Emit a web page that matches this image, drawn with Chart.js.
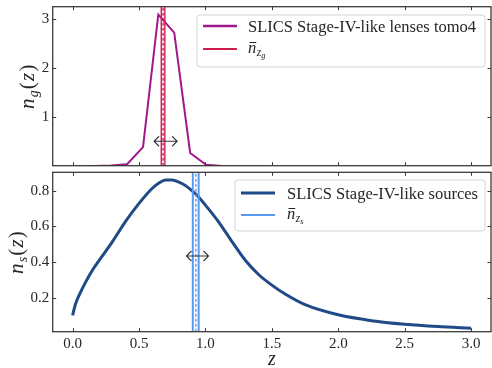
<!DOCTYPE html>
<html>
<head>
<meta charset="utf-8">
<script src="https://cdn.jsdelivr.net/npm/chart.js@4.4.1/dist/chart.umd.min.js"></script>
<style>
  html, body { margin: 0; padding: 0; background: #fff; }
  #wrap { position: relative; width: 492px; height: 368px; }
  #lensChart { position: absolute; left: 0; top: 0; }
  #srcChart { position: absolute; left: 0; top: 170px; }
</style>
</head>
<body>
<div id="wrap">
  <canvas id="lensChart" width="492" height="170"></canvas>
  <canvas id="srcChart" width="492" height="198"></canvas>
</div>
<script>
// lenses (tomo4) n(z), histogram-like points
var lensZ  = [0.05, 0.17, 0.29, 0.41, 0.53, 0.645, 0.765, 0.885, 1.005, 1.125, 1.245, 1.4];
var lensNz = [0.0, 0.005, 0.015, 0.04, 0.39, 3.1, 2.73, 0.27, 0.03, 0.005, 0.0, 0.0];

// sources n(z)
var srcZ  = [0, 0.02, 0.05, 0.1, 0.15, 0.2, 0.3, 0.4, 0.5, 0.6, 0.65, 0.7, 0.75, 0.8, 0.85, 0.9, 0.95, 1.0, 1.1, 1.2, 1.3, 1.4, 1.5, 1.6, 1.75, 2.0, 2.25, 2.5, 2.75, 3.0];
var srcNz = [0.10, 0.16, 0.215, 0.29, 0.355, 0.41, 0.515, 0.63, 0.73, 0.815, 0.845, 0.862, 0.862, 0.85, 0.83, 0.80, 0.765, 0.72, 0.625, 0.515, 0.41, 0.33, 0.27, 0.22, 0.16, 0.103, 0.07, 0.05, 0.037, 0.028];

// mean redshift bands: [low, mean, high]
var lensMeanBand = [0.6675, 0.681, 0.6945];
var srcMeanBand  = [0.905, 0.928, 0.949];

// double arrows: [z centre, n, half width in z]
var lensArrow = [0.70, 0.51, 0.087];
var srcArrow  = [0.94, 0.434, 0.083];

var xTicks = [0, 0.5, 1, 1.5, 2, 2.5, 3];
var xRange = [-0.15, 3.15];
var lensYTicks = [1, 2, 3];
var lensYRange = [0.01, 3.26];
var srcYTicks = [0.2, 0.4, 0.6, 0.8];
var srcYRange = [0.008, 0.905];

var C_PURPLE = '#a3178e';
var C_CRIMSON = '#cf1d50';
var C_DBLUE = '#1f4a87';
var C_LBLUE = '#5a9af4';
var C_AXIS = '#3a3a3a';
var C_TEXT = '#262626';
var SERIF = '"Liberation Serif", "DejaVu Serif", serif';

function pts(xs, ys) {
  return xs.map(function(x, i) { return { x: x, y: ys[i] }; });
}
function vline(z, yr) {
  return [{ x: z, y: yr[0] }, { x: z, y: yr[1] }];
}

// draws mathy label like n_g(z) rotated
function drawYLabel(ctx, cx, cy, sub) {
  ctx.save();
  ctx.translate(cx, cy);
  ctx.rotate(-Math.PI / 2);
  ctx.fillStyle = C_TEXT;
  ctx.textBaseline = 'alphabetic';
  var fN = 'italic 21px ' + SERIF, fS = 'italic 14px ' + SERIF, fP = '21px ' + SERIF;
  var parts = [[fN, 'n', 0], [fS, sub, 4], [fP, '(', 0], [fN, 'z', 0], [fP, ')', 0]];
  var gap = 1.2, total = 0;
  parts.forEach(function(p) { ctx.font = p[0]; total += ctx.measureText(p[1]).width + gap; });
  var x = -total / 2;
  parts.forEach(function(p) {
    ctx.font = p[0];
    ctx.fillText(p[1], x, 6 + p[2]);
    x += ctx.measureText(p[1]).width + gap;
  });
  ctx.restore();
}

function drawNbar(ctx, x, y, sub) {
  ctx.fillStyle = C_TEXT;
  ctx.textBaseline = 'alphabetic';
  ctx.font = 'italic 16.5px ' + SERIF;
  var w = ctx.measureText('n').width;
  ctx.fillText('n', x, y);
  ctx.fillRect(x + 1.5, y - 10.5, w - 1.5, 1);
  ctx.font = 'italic 11.5px ' + SERIF;
  ctx.fillText('z', x + w + 0.5, y + 3);
  var wz = ctx.measureText('z').width;
  ctx.font = 'italic 8.5px ' + SERIF;
  ctx.fillText(sub, x + w + wz + 0.5, y + 5.5);
}

var decoPlugin = {
  id: 'deco',
  afterDatasetsDraw: function(chart) {
    var o = chart.options.plugins.deco;
    var ctx = chart.ctx, a = chart.chartArea;
    var xs = chart.scales.x, ys = chart.scales.y;
    ctx.save();

    // double arrow annotation
    var ax1 = xs.getPixelForValue(o.arrow[0] - o.arrow[2]);
    var ax2 = xs.getPixelForValue(o.arrow[0] + o.arrow[2]);
    var ay = ys.getPixelForValue(o.arrow[1]);
    ctx.strokeStyle = '#333';
    ctx.lineWidth = 1.1;
    ctx.beginPath();
    ctx.moveTo(ax1, ay); ctx.lineTo(ax2, ay);
    ctx.moveTo(ax1 + 5, ay - 5); ctx.lineTo(ax1, ay); ctx.lineTo(ax1 + 5, ay + 5);
    ctx.moveTo(ax2 - 5, ay - 5); ctx.lineTo(ax2, ay); ctx.lineTo(ax2 - 5, ay + 5);
    ctx.stroke();

    // inward ticks on all sides
    ctx.strokeStyle = C_AXIS;
    ctx.lineWidth = 1;
    ctx.beginPath();
    xTicks.forEach(function(v) {
      var px = Math.round(xs.getPixelForValue(v)) + 0.5;
      ctx.moveTo(px, a.bottom); ctx.lineTo(px, a.bottom - 3.5);
      ctx.moveTo(px, a.top); ctx.lineTo(px, a.top + 3.5);
    });
    o.yTicks.forEach(function(v) {
      var py = Math.round(ys.getPixelForValue(v)) + 0.5;
      ctx.moveTo(a.left, py); ctx.lineTo(a.left + 3.5, py);
      ctx.moveTo(a.right, py); ctx.lineTo(a.right - 3.5, py);
    });
    ctx.stroke();

    // frame
    ctx.lineWidth = 1.3;
    ctx.strokeRect(a.left, a.top, a.right - a.left, a.bottom - a.top);

    // legend
    var L = o.legend;
    ctx.fillStyle = 'rgba(255,255,255,0.85)';
    ctx.strokeStyle = '#d4d4d4';
    ctx.lineWidth = 1;
    ctx.beginPath();
    ctx.roundRect(L.x, L.y, L.w, L.h, 3);
    ctx.fill(); ctx.stroke();
    ctx.lineWidth = L.lw[0];
    ctx.strokeStyle = L.colors[0];
    ctx.beginPath(); ctx.moveTo(L.x + 6, L.y + L.row1); ctx.lineTo(L.x + 40, L.y + L.row1); ctx.stroke();
    ctx.lineWidth = 2;
    ctx.strokeStyle = L.colors[1];
    ctx.beginPath(); ctx.moveTo(L.x + 6, L.y + L.row2); ctx.lineTo(L.x + 40, L.y + L.row2); ctx.stroke();
    ctx.fillStyle = C_TEXT;
    ctx.font = '16.5px ' + SERIF;
    ctx.textBaseline = 'alphabetic';
    ctx.fillText(L.label, L.x + L.tx, L.y + L.row1 + 5.5);
    drawNbar(ctx, L.x + L.tx, L.y + L.row2 + 3.5, L.sub);

    // axis titles
    drawYLabel(ctx, o.ylabelX, (a.top + a.bottom) / 2, o.sub);
    if (o.xlabel) {
      ctx.fillStyle = C_TEXT;
      ctx.font = 'italic 20px ' + SERIF;
      ctx.textAlign = 'center';
      ctx.textBaseline = 'alphabetic';
      ctx.fillText('z', xs.getPixelForValue(1.5), chart.height - 3);
    }
    ctx.restore();
  }
};

function makeChart(id, cfg) {
  return new Chart(document.getElementById(id).getContext('2d'), {
    type: 'line',
    data: { datasets: cfg.datasets },
    options: {
      responsive: false,
      animation: false,
      layout: { autoPadding: false, padding: { left: 0, right: 1, top: cfg.padTop, bottom: 0 } },
      plugins: { legend: { display: false }, tooltip: { enabled: false }, deco: cfg.deco },
      elements: { point: { radius: 0 } },
      scales: {
        x: {
          type: 'linear', min: xRange[0], max: xRange[1],
          grid: { display: false, drawTicks: false }, border: { display: false },
          afterBuildTicks: function(s) { s.ticks = xTicks.map(function(v) { return { value: v }; }); },
          afterFit: function(s) { s.height = cfg.xHeight; s.paddingLeft = 0; s.paddingRight = 0; },
          ticks: {
            display: cfg.showX, padding: 3, color: C_TEXT, maxRotation: 0,
            font: { family: SERIF, size: 15 },
            callback: function(v) { return v.toFixed(1); }
          }
        },
        y: {
          type: 'linear', min: cfg.yRange[0], max: cfg.yRange[1],
          grid: { display: false, drawTicks: false }, border: { display: false },
          afterBuildTicks: function(s) { s.ticks = cfg.yTicks.map(function(v) { return { value: v }; }); },
          afterFit: function(s) { s.width = 52.7; s.paddingTop = 0; s.paddingBottom = 0; },
          ticks: {
            padding: 3.5, color: C_TEXT,
            font: { family: SERIF, size: 15 },
            callback: cfg.yFmt
          }
        }
      }
    },
    plugins: [decoPlugin]
  });
}

var lensChart = makeChart('lensChart', {
  padTop: 6.7, xHeight: 170 - 165.7, showX: false,
  yRange: lensYRange, yTicks: lensYTicks,
  yFmt: function(v) { return String(v); },
  datasets: [
    { data: pts(lensZ, lensNz), borderColor: C_PURPLE, borderWidth: 2, order: 3 },
    { data: vline(lensMeanBand[0], lensYRange), borderColor: C_CRIMSON, borderWidth: 1.4, order: 1 },
    { data: vline(lensMeanBand[2], lensYRange), borderColor: C_CRIMSON, borderWidth: 1.4, order: 1 },
    { data: vline(lensMeanBand[1], lensYRange), borderColor: C_CRIMSON, borderWidth: 1.4, borderDash: [3, 2], order: 0 }
  ],
  deco: {
    arrow: lensArrow, yTicks: lensYTicks, sub: 'g', ylabelX: 28,
    legend: { x: 197, y: 15, w: 288, h: 52, row1: 11, row2: 34, tx: 51, lw: [2.5],
              colors: [C_PURPLE, C_CRIMSON], label: 'SLICS Stage-IV-like lenses tomo4', sub: 'g' }
  }
});

var srcChart = makeChart('srcChart', {
  padTop: 2.3, xHeight: 198 - 161.7, showX: true,
  yRange: srcYRange, yTicks: srcYTicks,
  yFmt: function(v) { return v.toFixed(1); },
  datasets: [
    { data: pts(srcZ, srcNz), borderColor: C_DBLUE, borderWidth: 3, cubicInterpolationMode: 'monotone', order: 3 },
    { data: vline(srcMeanBand[0], srcYRange), borderColor: C_LBLUE, borderWidth: 2, order: 1 },
    { data: vline(srcMeanBand[2], srcYRange), borderColor: C_LBLUE, borderWidth: 2, order: 1 },
    { data: vline(srcMeanBand[1], srcYRange), borderColor: C_LBLUE, borderWidth: 1.4, borderDash: [3, 2], order: 0 }
  ],
  deco: {
    arrow: srcArrow, yTicks: srcYTicks, sub: 's', ylabelX: 17, xlabel: true,
    legend: { x: 235, y: 10, w: 250, h: 51, row1: 13, row2: 35, tx: 52, lw: [3],
              colors: [C_DBLUE, C_LBLUE], label: 'SLICS Stage-IV-like sources', sub: 's' }
  }
});
</script>
</body>
</html>
